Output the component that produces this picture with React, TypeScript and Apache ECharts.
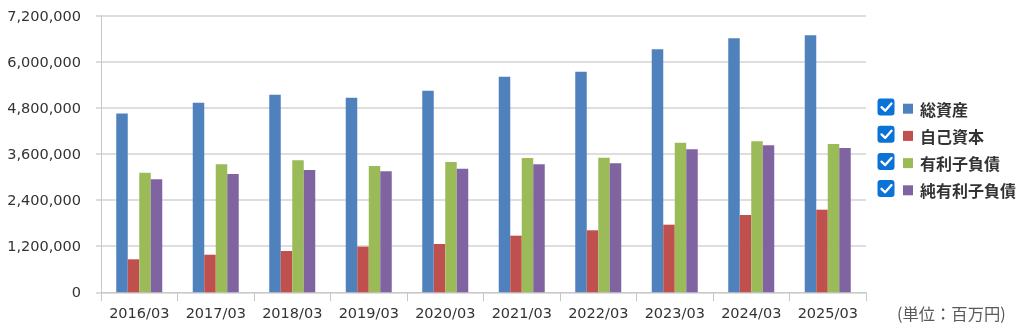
import React, { useEffect, useRef } from "react";
import * as echarts from "echarts";

const categories = ["2016/03", "2017/03", "2018/03", "2019/03", "2020/03", "2021/03", "2022/03", "2023/03", "2024/03", "2025/03"];
const seriesNames = ["総資産", "自己資本", "有利子負債", "純有利子負債"];
const totalAssets = [4650000, 4933000, 5140000, 5063000, 5245000, 5609000, 5739000, 6320000, 6607000, 6686000];
const equity = [858000, 978000, 1074000, 1187000, 1257000, 1473000, 1613000, 1759000, 2011000, 2149000];
const debt = [3111000, 3330000, 3434000, 3286000, 3390000, 3494000, 3500000, 3892000, 3928000, 3858000];
const netDebt = [2940000, 3078000, 3180000, 3148000, 3216000, 3330000, 3356000, 3720000, 3824000, 3754000];
const yTicks = [0, 1200000, 2400000, 3600000, 4800000, 6000000, 7200000];
const colors = ["#4f81bd", "#c0504d", "#9bbb59", "#8064a2"];
const unitLabel = "(単位：百万円)";

export default function App() {
  const ref = useRef<HTMLDivElement>(null);
  useEffect(() => {
    if (!ref.current) return;
    const chart = echarts.init(ref.current, null, { renderer: "svg" });
    const values = [totalAssets, equity, debt, netDebt];
    const rowStep = 27.2;
    const checkboxes: any[] = [];
    seriesNames.forEach((_, i) => {
      const y0 = 98.5 + i * rowStep;
      checkboxes.push({
        type: "rect",
        shape: { x: 877.5, y: y0, width: 17, height: 17, r: 3 },
        style: { fill: "#0b72d8" },
        silent: true,
      });
      checkboxes.push({
        type: "polyline",
        shape: { points: [[881.5, y0 + 8.7], [885.2, y0 + 12.2], [891.5, y0 + 5]] },
        style: { stroke: "#ffffff", lineWidth: 2.3, fill: "none", lineCap: "round", lineJoin: "round" },
        silent: true,
      });
    });
    chart.setOption({
      animation: false,
      color: colors,
      grid: { left: 101, right: 158, top: 15.5, bottom: 36.7, containLabel: false },
      legend: {
        orient: "vertical",
        left: 903,
        top: 99.7,
        padding: 0,
        icon: "rect",
        itemWidth: 10,
        itemHeight: 10,
        itemGap: 9.2,
        selectedMode: false,
        data: seriesNames,
        textStyle: {
          fontFamily: "Noto Sans CJK JP",
          fontSize: 16,
          fontWeight: "bold",
          color: "#333333",
          lineHeight: 18,
          padding: [0, 0, 0, 2],
        },
      },
      xAxis: {
        type: "category",
        data: categories,
        boundaryGap: true,
        axisLine: { show: true, lineStyle: { color: "#c8c8c8", width: 1 } },
        axisTick: { show: true, length: 9, alignWithLabel: false, interval: 0, lineStyle: { color: "#c8c8c8" } },
        axisLabel: { fontFamily: "DejaVu Sans", fontSize: 14.5, color: "#333333", margin: 13, interval: 0 },
        splitLine: { show: false },
      },
      yAxis: {
        type: "value",
        min: 0,
        max: 7200000,
        interval: 1200000,
        axisLine: { show: true, lineStyle: { color: "#c8c8c8", width: 1 } },
        axisTick: { show: true, length: 5, lineStyle: { color: "#d0d0d0", width: 1.5 } },
        axisLabel: {
          fontFamily: "DejaVu Sans",
          fontSize: 14.5,
          color: "#333333",
          margin: 20,
          formatter: (v: number) => (yTicks.includes(v) ? v.toLocaleString("en-US") : ""),
        },
        splitLine: { show: true, lineStyle: { color: "#d3d3d3", width: 1.5 } },
      },
      series: seriesNames.map((name, i) => ({
        name,
        type: "bar",
        data: values[i],
        barWidth: 11.5,
        barGap: "0%",
        itemStyle: { color: colors[i] },
      })),
      graphic: [
        ...checkboxes,
        {
          type: "text",
          x: 897,
          y: 313,
          style: {
            text: unitLabel,
            fontFamily: "Noto Sans CJK JP",
            fontSize: 16.3,
            fill: "#5a5a5a",
            verticalAlign: "middle",
            align: "left",
          },
          silent: true,
        },
      ],
    });
    return () => chart.dispose();
  }, []);
  return <div ref={ref} style={{ position: "fixed", left: 0, top: 0, width: 1024, height: 329 }} />;
}
